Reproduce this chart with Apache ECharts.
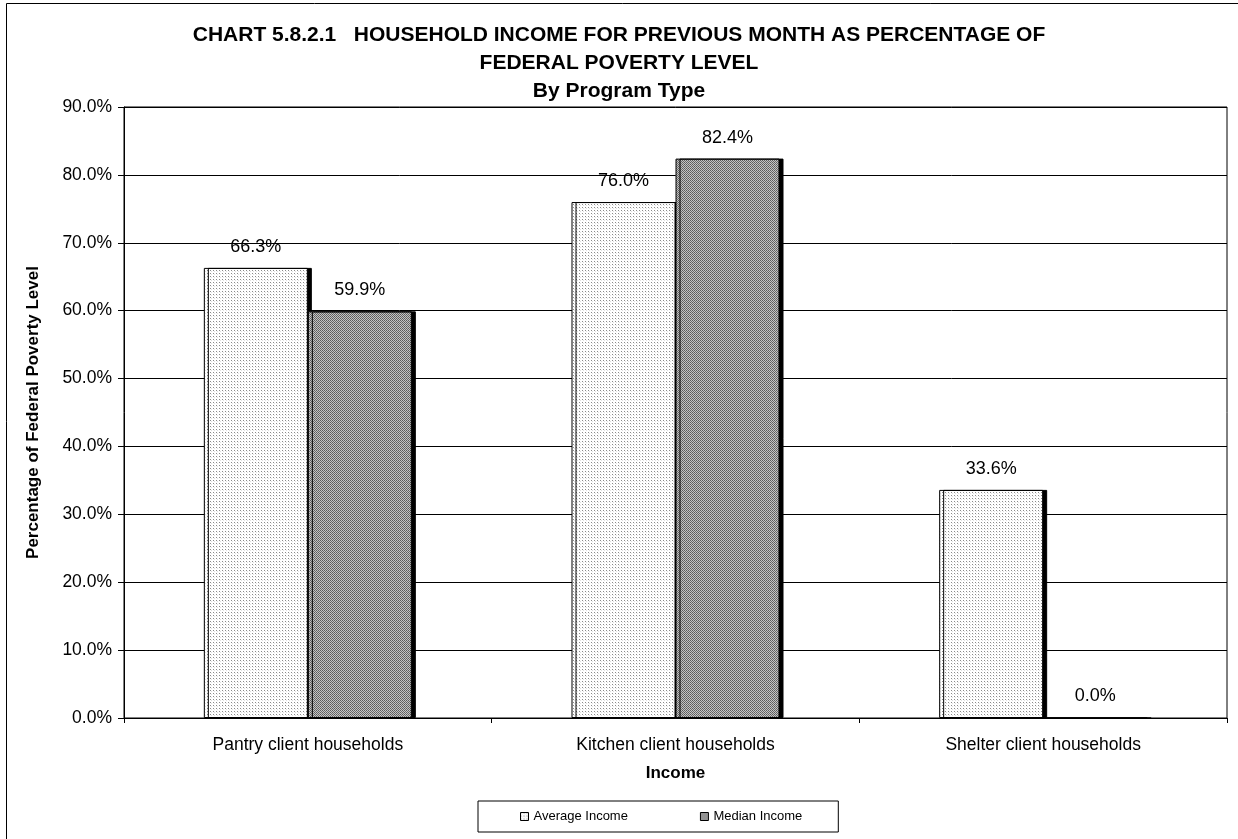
<!DOCTYPE html>
<html>
<head>
<meta charset="utf-8">
<script src="https://cdn.jsdelivr.net/npm/echarts@6/dist/echarts.min.js"></script>
<style>
  html, body { margin: 0; padding: 0; background: #fff; }
  #chart { width: 1238px; height: 839px; }
</style>
</head>
<body>
<div id="chart"></div>
<script>
const categories = ['Pantry client households', 'Kitchen client households', 'Shelter client households'];
const averageIncome = [66.3, 76.0, 33.6];
const medianIncome = [59.9, 82.4, 0.0];
const seriesNames = ['Average Income', 'Median Income'];
const titleText = 'CHART 5.8.2.1   HOUSEHOLD INCOME FOR PREVIOUS MONTH AS PERCENTAGE OF\nFEDERAL POVERTY LEVEL\nBy Program Type';

function makePattern(size, bg, dots) {
  const c = document.createElement('canvas');
  c.width = size; c.height = size;
  const ctx = c.getContext('2d');
  ctx.fillStyle = bg; ctx.fillRect(0, 0, size, size);
  dots.forEach(d => { ctx.fillStyle = d[2]; ctx.fillRect(d[0], d[1], 1, 1); });
  return c;
}
const avgPattern = makePattern(3, '#ffffff', [[0, 0, '#8a8a8a'], [1, 1, '#e0e0e0']]);
const medPattern = makePattern(2, '#c4c4c4', [[0, 0, '#5a5a5a'], [1, 1, '#6a6a6a']]);

const FONT = '"Liberation Sans", Arial, sans-serif';
const chart = echarts.init(document.getElementById('chart'), null, { renderer: 'canvas' });

const barStyle = (pat) => ({
  color: { image: pat, repeat: 'repeat' },
  borderColor: '#000',
  borderWidth: 1,
  shadowColor: '#000',
  shadowBlur: 0,
  shadowOffsetX: 4,
  shadowOffsetY: 0
});

chart.setOption({
  animation: false,
  backgroundColor: '#fff',
  textStyle: { fontFamily: FONT },
  title: {
    text: titleText,
    left: 'center',
    top: 16,
    textStyle: { fontFamily: FONT, fontSize: 21, fontWeight: 'bold', color: '#000', lineHeight: 28 }
  },
  graphic: [{
    type: 'rect',
    shape: { x: 6.5, y: 3.5, width: 1400, height: 1000 },
    style: { fill: 'none', stroke: '#000', lineWidth: 1 },
    silent: true
  }],
  legend: {
    left: 478,
    top: 801,
    orient: 'horizontal',
    data: seriesNames,
    icon: 'rect',
    itemWidth: 8,
    itemHeight: 8,
    itemGap: 72,
    padding: [9, 36, 9, 42],
    borderColor: '#000',
    borderWidth: 1,
    textStyle: { fontFamily: FONT, fontSize: 13, color: '#000' },
    itemStyle: { borderColor: '#000', borderWidth: 1, shadowBlur: 0, shadowOffsetX: 0, shadowOffsetY: 0, shadowColor: 'transparent' }
  },
  grid: {
    left: 124, right: 11, top: 107, bottom: 121,
    show: true, borderColor: '#000', borderWidth: 1
  },
  xAxis: {
    type: 'category',
    data: categories,
    name: 'Income',
    nameLocation: 'middle',
    nameGap: 47,
    nameTextStyle: { fontFamily: FONT, fontSize: 17, fontWeight: 'bold', color: '#000' },
    axisLine: { lineStyle: { color: '#000', width: 1 } },
    axisTick: { show: true, alignWithLabel: false, length: 5, lineStyle: { color: '#000' } },
    axisLabel: { fontFamily: FONT, fontSize: 17.5, color: '#000', margin: 18 },
    splitLine: { show: false }
  },
  yAxis: {
    type: 'value',
    min: 0, max: 90, interval: 10,
    name: 'Percentage of Federal Poverty Level',
    nameLocation: 'middle',
    nameGap: 82,
    nameRotate: 90,
    nameTextStyle: { fontFamily: FONT, fontSize: 17, fontWeight: 'bold', color: '#000' },
    axisLine: { show: true, lineStyle: { color: '#000', width: 1 } },
    axisTick: { show: true, length: 6, lineStyle: { color: '#000' } },
    axisLabel: { fontFamily: FONT, fontSize: 17.5, color: '#000', margin: 12, formatter: v => v.toFixed(1) + '%' },
    splitLine: { show: true, lineStyle: { color: '#000', width: 1 } }
  },
  series: [
    {
      name: seriesNames[0],
      type: 'bar',
      data: averageIncome,
      barWidth: 104,
      barGap: '0%',
      itemStyle: barStyle(avgPattern),
      label: { show: true, position: 'top', distance: 12, fontFamily: FONT, fontSize: 18, color: '#000', formatter: p => p.value.toFixed(1) + '%' }
    },
    {
      name: seriesNames[1],
      type: 'bar',
      data: medianIncome,
      barWidth: 104,
      barGap: '0%',
      itemStyle: barStyle(medPattern),
      label: { show: true, position: 'top', distance: 12, fontFamily: FONT, fontSize: 18, color: '#000', formatter: p => p.value.toFixed(1) + '%' }
    }
  ]
});
</script>
</body>
</html>
